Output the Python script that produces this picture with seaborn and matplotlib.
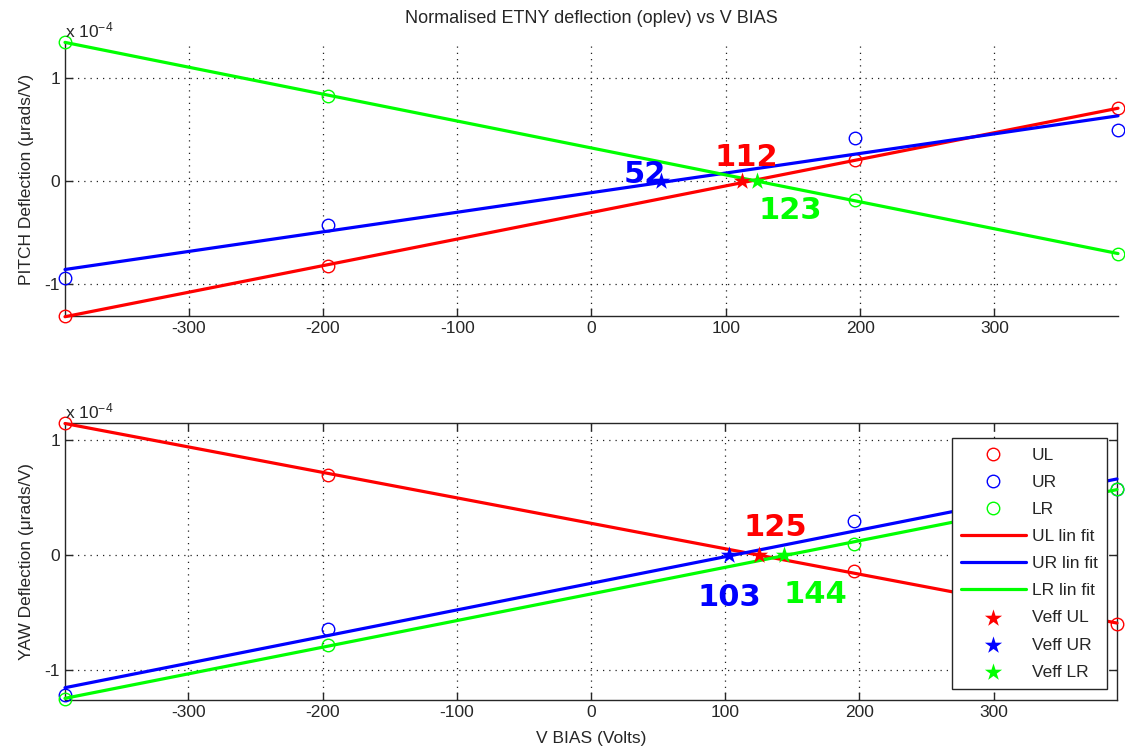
import numpy as np
import matplotlib
matplotlib.use("Agg")
import matplotlib.pyplot as plt
import seaborn as sns

# ---------------- data ----------------
x_bias = [-392, -196, 196, 392]
series_names = ["UL", "UR", "LR"]
series_colors = ["#ff0000", "#0000ff", "#00ff00"]

# deflection values (units of 1e-4 urads/V)
pitch_ul = [-1.31, -0.82, 0.20, 0.71]
pitch_ur = [-0.94, -0.43, 0.42, 0.50]
pitch_lr = [1.35, 0.825, -0.18, -0.71]
yaw_ul = [1.15, 0.70, -0.14, -0.60]
yaw_ur = [-1.22, -0.64, 0.30, 0.58]
yaw_lr = [-1.25, -0.78, 0.10, 0.58]

pitch_veff = [112, 52, 123]
yaw_veff = [125, 103, 144]

x_ticks = [-300, -200, -100, 0, 100, 200, 300]
y_ticks = [-1, 0, 1]

# ---------------- style ----------------
sns.set_style("white")
plt.rcParams['font.family'] = ['Liberation Sans', 'DejaVu Sans']
plt.rcParams['mathtext.default'] = 'regular'

fig = plt.figure(figsize=(11.25, 7.56), dpi=100)
ax_top = fig.add_axes([65/1125, 1-316/756, (1118-65)/1125, (316-42)/756])
ax_bot = fig.add_axes([65/1125, 1-700/756, (1117-65)/1125, (700-423)/756])

# label offsets (data units) for the Veff annotations
pitch_lbl_off = [(3, 0.23), (-12, 0.06), (25, -0.29)]
yaw_lbl_off = [(12, 0.24), (0, -0.37), (23, -0.34)]


def draw(ax, series, veffs, offs, ylim, ylabel, box):
    # circles
    for name, col, ys in zip(series_names, series_colors, series):
        sns.lineplot(x=x_bias, y=ys, ax=ax, color=col, linestyle='', marker='o',
                     markersize=9, markerfacecolor='none', markeredgecolor=col,
                     markeredgewidth=1.0, label=name, clip_on=False, zorder=3)
    # linear fits
    for name, col, ys in zip(series_names, series_colors, series):
        a, b = np.polyfit(x_bias, ys, 1)
        fit = np.polyval([a, b], x_bias)
        sns.lineplot(x=x_bias, y=fit, ax=ax, color=col, linewidth=2.3,
                     label=name + " lin fit", clip_on=False, zorder=4)
    # Veff stars
    for name, col, v in zip(series_names, series_colors, veffs):
        sns.scatterplot(x=[v], y=[0], ax=ax, marker='*', s=170, color=col,
                        linewidth=0, label="Veff " + name, zorder=5)
    for col, v, (dx, dy) in zip(series_colors, veffs, offs):
        ax.text(v + dx, dy, str(v), color=col, fontsize=22, fontweight='bold',
                family=['DejaVu Sans'], ha='center', va='center', zorder=6)

    ax.set_xlim(-392, 392)
    ax.set_ylim(*ylim)
    ax.set_xticks(x_ticks)
    ax.set_yticks(y_ticks)
    ax.set_xticklabels([str(t) for t in x_ticks], fontsize=12.5)
    ax.set_yticklabels([str(t) for t in y_ticks], fontsize=12.5)
    ax.grid(True, linestyle=(0, (1, 4)), color='#222222', linewidth=0.9)
    ax.set_axisbelow(True)
    ax.set_ylabel(ylabel, fontsize=12.5, labelpad=8)
    ax.text(0.0, 1.005, r'x 10$^{-4}$', transform=ax.transAxes, fontsize=12.5,
            ha='left', va='bottom')
    for s in ax.spines.values():
        s.set_color('#262626')
        s.set_linewidth(1.0)
    if box:
        ax.tick_params(direction='in', length=6, width=1, top=True, right=True,
                       bottom=True, left=True, colors='#262626', labelcolor='#262626')
    else:
        ax.spines['top'].set_visible(False)
        ax.spines['right'].set_visible(False)
        ax.tick_params(direction='in', length=6, width=1, bottom=True, left=True,
                       colors='#262626', labelcolor='#262626')
    if ax.get_legend():
        ax.get_legend().remove()


draw(ax_top, [pitch_ul, pitch_ur, pitch_lr], pitch_veff, pitch_lbl_off,
     (-1.31, 1.35), u"PITCH Deflection (\u03bcrads/V)", box=False)
draw(ax_bot, [yaw_ul, yaw_ur, yaw_lr], yaw_veff, yaw_lbl_off,
     (-1.26, 1.15), u"YAW Deflection (\u03bcrads/V)", box=True)

ax_top.set_title("Normalised ETNY deflection (oplev) vs V BIAS", fontsize=13, pad=14)
ax_bot.set_xlabel("V BIAS (Volts)", fontsize=12.5, labelpad=8)

handles, labels = ax_bot.get_legend_handles_labels()
leg = ax_bot.legend(handles, labels, loc='upper right',
                    bbox_to_anchor=(1107/1125, 1-438/756), bbox_transform=fig.transFigure,
                    borderaxespad=0, fontsize=12.5, frameon=True, fancybox=False,
                    handlelength=3.7, handletextpad=0.35, labelspacing=0.69,
                    borderpad=0.55, markerscale=1.0)
leg.get_frame().set_edgecolor('#262626')
leg.get_frame().set_linewidth(1.0)
leg.get_frame().set_alpha(1)
leg.set_zorder(10)

fig.savefig("out.png", dpi=100)
